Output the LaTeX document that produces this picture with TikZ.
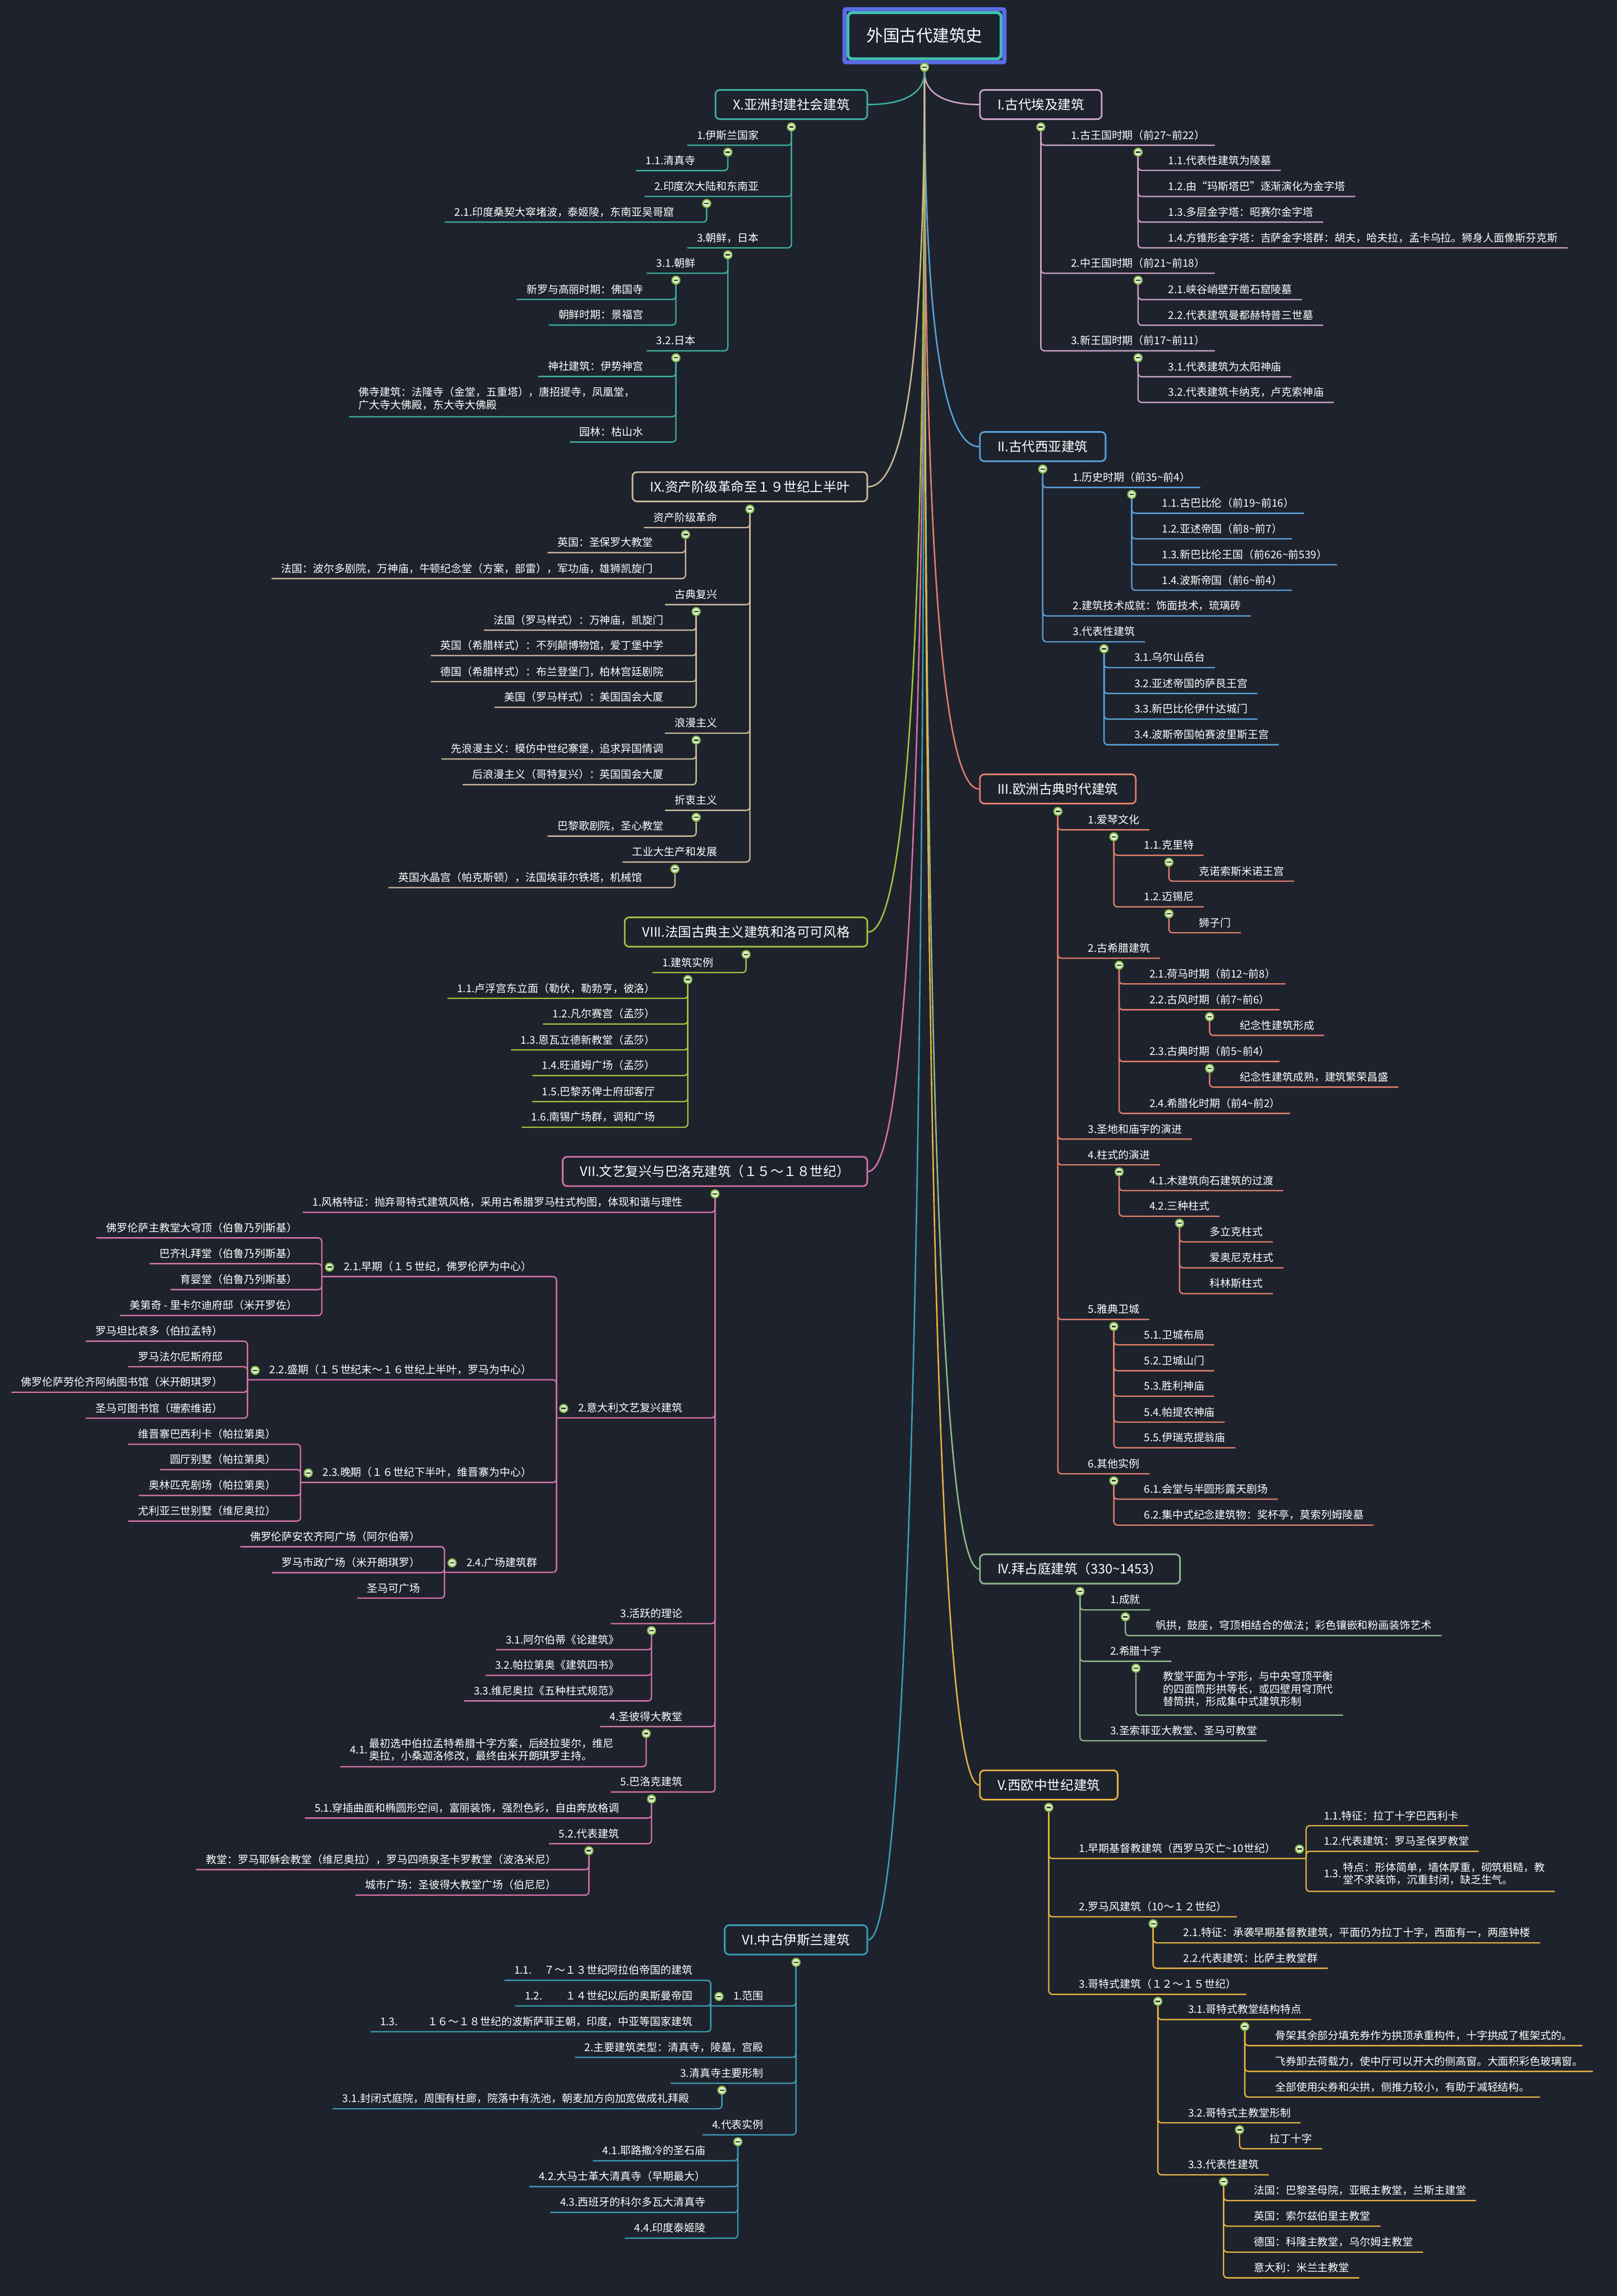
\documentclass[tikz,border=0pt]{standalone}
\usepackage{fontspec}
\usepackage{tikz}
\usetikzlibrary{positioning, fit, calc, backgrounds}
\newfontfamily\cjk{Noto Sans CJK SC}
\definecolor{bg}{RGB}{30,34,45}
\definecolor{rootc}{RGB}{62,193,176}
\definecolor{selc}{RGB}{91,108,230}
\definecolor{cI}{RGB}{201,163,198}
\definecolor{cII}{RGB}{90,162,216}
\definecolor{cIII}{RGB}{224,128,108}
\definecolor{cIV}{RGB}{141,184,138}
\definecolor{cV}{RGB}{230,179,64}
\definecolor{cVI}{RGB}{58,157,180}
\definecolor{cVII}{RGB}{212,115,166}
\definecolor{cVIII}{RGB}{163,194,62}
\definecolor{cIX}{RGB}{203,185,154}
\definecolor{cX}{RGB}{61,174,158}
\definecolor{knobout}{RGB}{124,179,66}
\definecolor{knobin}{RGB}{220,237,200}
\definecolor{knobdash}{RGB}{51,64,42}
\newcommand{\tld}{\textasciitilde}
\newcommand{\leaffont}{\cjk\fontsize{7.25}{8.4}\selectfont}
\newcommand{\boxfont}{\cjk\fontsize{9}{11}\selectfont}
\newcommand{\rootfont}{\cjk\fontsize{11.3}{13}\selectfont}

\begin{document}
\begin{tikzpicture}[
  x=1pt, y=-1pt,
  rootbox/.style={rectangle, rounded corners=3pt, draw=rootc, line width=2pt, fill=bg,
                  text=white, font=\rootfont, minimum width=104.5pt, minimum height=31.6pt},
  selbox/.style={rectangle, rounded corners=1pt, draw=selc, line width=2.8pt, inner sep=1.3pt},
  branch/.style={rectangle, rounded corners=3pt, draw=#1, line width=1.1pt, fill=bg,
                 text=white, font=\boxfont, inner xsep=12pt, minimum height=20pt},
  knob/.style={circle, inner sep=0pt, minimum size=5.5pt, fill=knobin, draw=knobout, line width=0.8pt,
               path picture={\draw[knobdash, line width=0.9pt]
                 ([xshift=-1.5pt]path picture bounding box.center) -- ([xshift=1.5pt]path picture bounding box.center);}},
  leaf/.style={inner xsep=6.5pt, inner ysep=2.5pt, text height=6pt, text depth=1.5pt, text=white, font=\leaffont},
  mleaf/.style={inner xsep=6.5pt, text=white, font=\leaffont},
  lr/.style={leaf, anchor=south west, xshift=14pt},
  ll/.style={leaf, anchor=south east, xshift=-15.5pt},
  lb/.style={leaf, anchor=south east, xshift=-10pt},
  ln/.style={draw=#1, line width=0.9pt, rounded corners=2.5pt},
  trunk/.style={draw=#1, line width=1pt}
]
\begin{scope}[on background layer]
  \fill[bg] (0,0) rectangle (1104,1568);
\end{scope}
\useasboundingbox (0,0) rectangle (1104,1568);

% --- root ---
\node[rootbox] (root) at (631.2,24.4) {外国古代建筑史};
\node[selbox, fit=(root)] (rootsel) {};
\node[knob, below=1.6pt of root] (rk) {};

% --- main branches ---
\node[branch=cI, anchor=west] (bI) at (668.5,71.4) {I.古代埃及建筑};
\node[branch=cII, anchor=west] (bII) at (668.5,305) {II.古代西亚建筑};
\node[branch=cIII, anchor=west] (bIII) at (668.5,538.8) {III.欧洲古典时代建筑};
\node[branch=cIV, anchor=west] (bIV) at (668.5,1071.5) {IV.拜占庭建筑（330\tld 1453）};
\node[branch=cV, anchor=west] (bV) at (668.5,1219) {V.西欧中世纪建筑};
\node[branch=cVI, anchor=east] (bVI) at (592.7,1324.8) {VI.中古伊斯兰建筑};
\node[branch=cVII, anchor=east] (bVII) at (592.7,800) {VII.文艺复兴与巴洛克建筑（１５～１８世纪）};
\node[branch=cVIII, anchor=east] (bVIII) at (592.7,636.5) {VIII.法国古典主义建筑和洛可可风格};
\node[branch=cIX, anchor=east] (bIX) at (592.7,332.4) {IX.资产阶级革命至１９世纪上半叶};
\node[branch=cX, anchor=east] (bX) at (592.7,71.4) {X.亚洲封建社会建筑};

\begin{scope}[on background layer]
  \draw[trunk=cI] (rk) .. controls ($(rk)!0.667!(rk|-bI.west)$) and ($(bI.west)!0.667!(rk|-bI.west)$) .. (bI.west);
  \draw[trunk=cII] (rk) .. controls ($(rk)!0.667!(rk|-bII.west)$) and ($(bII.west)!0.667!(rk|-bII.west)$) .. (bII.west);
  \draw[trunk=cIII] (rk) .. controls ($(rk)!0.667!(rk|-bIII.west)$) and ($(bIII.west)!0.667!(rk|-bIII.west)$) .. (bIII.west);
  \draw[trunk=cIV] (rk) .. controls ($(rk)!0.667!(rk|-bIV.west)$) and ($(bIV.west)!0.667!(rk|-bIV.west)$) .. (bIV.west);
  \draw[trunk=cV] (rk) .. controls ($(rk)!0.667!(rk|-bV.west)$) and ($(bV.west)!0.667!(rk|-bV.west)$) .. (bV.west);
  \draw[trunk=cVI] (rk) .. controls ($(rk)!0.667!(rk|-bVI.east)$) and ($(bVI.east)!0.667!(rk|-bVI.east)$) .. (bVI.east);
  \draw[trunk=cVII] (rk) .. controls ($(rk)!0.667!(rk|-bVII.east)$) and ($(bVII.east)!0.667!(rk|-bVII.east)$) .. (bVII.east);
  \draw[trunk=cVIII] (rk) .. controls ($(rk)!0.667!(rk|-bVIII.east)$) and ($(bVIII.east)!0.667!(rk|-bVIII.east)$) .. (bVIII.east);
  \draw[trunk=cIX] (rk) .. controls ($(rk)!0.667!(rk|-bIX.east)$) and ($(bIX.east)!0.667!(rk|-bIX.east)$) .. (bIX.east);
  \draw[trunk=cX] (rk) .. controls ($(rk)!0.667!(rk|-bX.east)$) and ($(bX.east)!0.667!(rk|-bX.east)$) .. (bX.east);
\end{scope}

% --- I. Egypt ---
\node[knob, below=1.6pt of bI] (kI) {};
\node[lr] (a1) at (kI |- 0,99.2) {1.古王国时期（前27\tld 前22）};
\node[knob, below=1.6pt of a1] (ka1) {};
\node[lr] (a11) at (ka1 |- 0,116.4) {1.1.代表性建筑为陵墓};
\node[lr] (a12) at (ka1 |- 0,134.2) {1.2.由“玛斯塔巴”逐渐演化为金字塔};
\node[lr] (a13) at (ka1 |- 0,151.7) {1.3.多层金字塔：昭赛尔金字塔};
\node[lr] (a14) at (ka1 |- 0,169.3) {1.4.方锥形金字塔：吉萨金字塔群：胡夫，哈夫拉，孟卡乌拉。狮身人面像斯芬克斯};
\node[lr] (a2) at (kI |- 0,186.6) {2.中王国时期（前21\tld 前18）};
\node[knob, below=1.6pt of a2] (ka2) {};
\node[lr] (a21) at (ka2 |- 0,204.6) {2.1.峡谷峭壁开凿石窟陵墓};
\node[lr] (a22) at (ka2 |- 0,222.1) {2.2.代表建筑曼都赫特普三世墓};
\node[lr] (a3) at (kI |- 0,239.6) {3.新王国时期（前17\tld 前11）};
\node[knob, below=1.6pt of a3] (ka3) {};
\node[lr] (a31) at (ka3 |- 0,257.3) {3.1.代表建筑为太阳神庙};
\node[lr] (a32) at (ka3 |- 0,274.8) {3.2.代表建筑卡纳克，卢克索神庙};
\begin{scope}[on background layer]
  \draw[ln=cI] (kI) |- (a1.south east);
  \draw[ln=cI] (kI) |- (a2.south east);
  \draw[ln=cI] (kI) |- (a3.south east);
  \draw[ln=cI] (ka1) |- (a11.south east);
  \draw[ln=cI] (ka1) |- (a12.south east);
  \draw[ln=cI] (ka1) |- (a13.south east);
  \draw[ln=cI] (ka1) |- (a14.south east);
  \draw[ln=cI] (ka2) |- (a21.south east);
  \draw[ln=cI] (ka2) |- (a22.south east);
  \draw[ln=cI] (ka3) |- (a31.south east);
  \draw[ln=cI] (ka3) |- (a32.south east);
\end{scope}

% --- II. West Asia ---
\node[knob, below=1.6pt of bII] (kII) {};
\node[lr] (b1) at (kII |- 0,332.9) {1.历史时期（前35\tld 前4）};
\node[knob, below=1.6pt of b1] (kb1) {};
\node[lr] (b11) at (kb1 |- 0,350.5) {1.1.古巴比伦（前19\tld 前16）};
\node[lr] (b12) at (kb1 |- 0,368.0) {1.2.亚述帝国（前8\tld 前7）};
\node[lr] (b13) at (kb1 |- 0,385.7) {1.3.新巴比伦王国（前626\tld 前539）};
\node[lr] (b14) at (kb1 |- 0,403.1) {1.4.波斯帝国（前6\tld 前4）};
\node[lr] (b2) at (kII |- 0,420.6) {2.建筑技术成就：饰面技术，琉璃砖};
\node[lr] (b3) at (kII |- 0,438.3) {3.代表性建筑};
\node[knob, below=1.6pt of b3] (kb3) {};
\node[lr] (b31) at (kb3 |- 0,455.9) {3.1.乌尔山岳台};
\node[lr] (b32) at (kb3 |- 0,473.6) {3.2.亚述帝国的萨艮王宫};
\node[lr] (b33) at (kb3 |- 0,491.1) {3.3.新巴比伦伊什达城门};
\node[lr] (b34) at (kb3 |- 0,508.6) {3.4.波斯帝国帕赛波里斯王宫};
\begin{scope}[on background layer]
  \draw[ln=cII] (kII) |- (b1.south east);
  \draw[ln=cII] (kII) |- (b2.south east);
  \draw[ln=cII] (kII) |- (b3.south east);
  \draw[ln=cII] (kb1) |- (b11.south east);
  \draw[ln=cII] (kb1) |- (b12.south east);
  \draw[ln=cII] (kb1) |- (b13.south east);
  \draw[ln=cII] (kb1) |- (b14.south east);
  \draw[ln=cII] (kb3) |- (b31.south east);
  \draw[ln=cII] (kb3) |- (b32.south east);
  \draw[ln=cII] (kb3) |- (b33.south east);
  \draw[ln=cII] (kb3) |- (b34.south east);
\end{scope}

% --- III. classical Europe ---
\node[knob, below=1.6pt of bIII] (kIII) {};
\node[lr] (c1) at (kIII |- 0,566.7) {1.爱琴文化};
\node[knob, below=1.6pt of c1] (kc1) {};
\node[lr] (c11) at (kc1 |- 0,584.1) {1.1.克里特};
\node[knob, below=1.6pt of c11] (kc11) {};
\node[lr] (c111) at (kc11 |- 0,601.8) {克诺索斯米诺王宫};
\node[lr] (c12) at (kc1 |- 0,619.3) {1.2.迈锡尼};
\node[knob, below=1.6pt of c12] (kc12) {};
\node[lr] (c121) at (kc12 |- 0,637) {狮子门};
\node[lr] (c2) at (kIII |- 0,654.4) {2.古希腊建筑};
\node[knob, below=1.6pt of c2] (kc2) {};
\node[lr] (c21) at (kc2 |- 0,671.9) {2.1.荷马时期（前12\tld 前8）};
\node[lr] (c22) at (kc2 |- 0,689.6) {2.2.古风时期（前7\tld 前6）};
\node[knob, below=1.6pt of c22] (kc22) {};
\node[lr] (c221) at (kc22 |- 0,707.1) {纪念性建筑形成};
\node[lr] (c23) at (kc2 |- 0,724.9) {2.3.古典时期（前5\tld 前4）};
\node[knob, below=1.6pt of c23] (kc23) {};
\node[lr] (c231) at (kc23 |- 0,742.4) {纪念性建筑成熟，建筑繁荣昌盛};
\node[lr] (c24) at (kc2 |- 0,760.4) {2.4.希腊化时期（前4\tld 前2）};
\node[lr] (c3) at (kIII |- 0,777.9) {3.圣地和庙宇的演进};
\node[lr] (c4) at (kIII |- 0,795.5) {4.柱式的演进};
\node[knob, below=1.6pt of c4] (kc4) {};
\node[lr] (c41) at (kc4 |- 0,813.1) {4.1.木建筑向石建筑的过渡};
\node[lr] (c42) at (kc4 |- 0,830.6) {4.2.三种柱式};
\node[knob, below=1.6pt of c42] (kc42) {};
\node[lr] (c421) at (kc42 |- 0,848.1) {多立克柱式};
\node[lr] (c422) at (kc42 |- 0,865.8) {爱奥尼克柱式};
\node[lr] (c423) at (kc42 |- 0,883.4) {科林斯柱式};
\node[lr] (c5) at (kIII |- 0,901.1) {5.雅典卫城};
\node[knob, below=1.6pt of c5] (kc5) {};
\node[lr] (c51) at (kc5 |- 0,918.4) {5.1.卫城布局};
\node[lr] (c52) at (kc5 |- 0,936.1) {5.2.卫城山门};
\node[lr] (c53) at (kc5 |- 0,953.5) {5.3.胜利神庙};
\node[lr] (c54) at (kc5 |- 0,971.2) {5.4.帕提农神庙};
\node[lr] (c55) at (kc5 |- 0,988.7) {5.5.伊瑞克提翁庙};
\node[lr] (c6) at (kIII |- 0,1006.5) {6.其他实例};
\node[knob, below=1.6pt of c6] (kc6) {};
\node[lr] (c61) at (kc6 |- 0,1023.8) {6.1.会堂与半圆形露天剧场};
\node[lr] (c62) at (kc6 |- 0,1041.5) {6.2.集中式纪念建筑物：奖杯亭，莫索列姆陵墓};
\begin{scope}[on background layer]
  \draw[ln=cIII] (kIII) |- (c1.south east);
  \draw[ln=cIII] (kIII) |- (c2.south east);
  \draw[ln=cIII] (kIII) |- (c3.south east);
  \draw[ln=cIII] (kIII) |- (c4.south east);
  \draw[ln=cIII] (kIII) |- (c5.south east);
  \draw[ln=cIII] (kIII) |- (c6.south east);
  \draw[ln=cIII] (kc1) |- (c11.south east);
  \draw[ln=cIII] (kc1) |- (c12.south east);
  \draw[ln=cIII] (kc11) |- (c111.south east);
  \draw[ln=cIII] (kc12) |- (c121.south east);
  \draw[ln=cIII] (kc2) |- (c21.south east);
  \draw[ln=cIII] (kc2) |- (c22.south east);
  \draw[ln=cIII] (kc2) |- (c23.south east);
  \draw[ln=cIII] (kc2) |- (c24.south east);
  \draw[ln=cIII] (kc22) |- (c221.south east);
  \draw[ln=cIII] (kc23) |- (c231.south east);
  \draw[ln=cIII] (kc4) |- (c41.south east);
  \draw[ln=cIII] (kc4) |- (c42.south east);
  \draw[ln=cIII] (kc42) |- (c421.south east);
  \draw[ln=cIII] (kc42) |- (c422.south east);
  \draw[ln=cIII] (kc42) |- (c423.south east);
  \draw[ln=cIII] (kc5) |- (c51.south east);
  \draw[ln=cIII] (kc5) |- (c52.south east);
  \draw[ln=cIII] (kc5) |- (c53.south east);
  \draw[ln=cIII] (kc5) |- (c54.south east);
  \draw[ln=cIII] (kc5) |- (c55.south east);
  \draw[ln=cIII] (kc6) |- (c61.south east);
  \draw[ln=cIII] (kc6) |- (c62.south east);
\end{scope}

% --- IV. Byzantine ---
\node[knob, below=1.6pt of bIV] (kIV) {};
\node[lr] (d1) at (kIV |- 0,1099.4) {1.成就};
\node[knob, below=1.6pt of d1] (kd1) {};
\node[lr] (d11) at (kd1 |- 0,1117) {帆拱，鼓座，穹顶相结合的做法；彩色镶嵌和粉画装饰艺术};
\node[lr] (d2) at (kIV |- 0,1134.5) {2.希腊十字};
\node[knob, below=1.6pt of d2] (kd2) {};
\node[mleaf, anchor=south west, xshift=12pt, inner ysep=3.7pt] (d21) at (kd2 |- 0,1171.3)
  {\begin{tabular}{@{}l@{}}教堂平面为十字形，与中央穹顶平衡\\的四面筒形拱等长，或四壁用穹顶代\\替筒拱，形成集中式建筑形制\end{tabular}};
\node[lr] (d3) at (kIV |- 0,1188.8) {3.圣索菲亚大教堂、圣马可教堂};
\begin{scope}[on background layer]
  \draw[ln=cIV] (kIV) |- (d1.south east);
  \draw[ln=cIV] (kIV) |- (d2.south east);
  \draw[ln=cIV] (kIV) |- (d3.south east);
  \draw[ln=cIV] (kd1) |- (d11.south east);
  \draw[ln=cIV] (kd2) |- (d21.south east);
\end{scope}

% --- V. medieval West Europe ---
\node[knob, below=1.6pt of bV] (kV) {};
\node[lr] (e1) at (kV |- 0,1269.2) {1.早期基督教建筑（西罗马灭亡\tld 10世纪）};
\node[knob, right=6.5pt of e1] (ke1) {};
\coordinate (te1) at ([xshift=14.2pt]e1.south east);
\node[leaf, anchor=south west, xshift=5.4pt] (e11) at (te1 |- 0,1246.8) {1.1.特征：拉丁十字巴西利卡};
\node[leaf, anchor=south west, xshift=5.4pt] (e12) at (te1 |- 0,1264.3) {1.2.代表建筑：罗马圣保罗教堂};
\node[mleaf, anchor=south west, xshift=5.4pt, inner ysep=2.4pt] (e13) at (te1 |- 0,1291.7)
  {\begin{tabular}{@{}l@{\hspace{1.2pt}}l@{}}1.3.&\begin{tabular}{@{}l@{}}特点：形体简单，墙体厚重，砌筑粗糙，教\\堂不求装饰，沉重封闭，缺乏生气。\end{tabular}\end{tabular}};
\node[lr] (e2) at (kV |- 0,1309) {2.罗马风建筑（10～１２世纪）};
\node[knob, below=1.6pt of e2] (ke2) {};
\node[lr] (e21) at (ke2 |- 0,1326.8) {2.1.特征：承袭早期基督教建筑，平面仍为拉丁十字，西面有一，两座钟楼};
\node[lr] (e22) at (ke2 |- 0,1344.2) {2.2.代表建筑：比萨主教堂群};
\node[lr] (e3) at (kV |- 0,1362) {3.哥特式建筑（１２～１５世纪）};
\node[knob, below=1.6pt of e3] (ke3) {};
\node[lr] (e31) at (ke3 |- 0,1379.2) {3.1.哥特式教堂结构特点};
\node[knob, below=1.6pt of e31] (ke31) {};
\node[lr] (e311) at (ke31 |- 0,1397) {骨架其余部分填充券作为拱顶承重构件，十字拱成了框架式的。};
\node[lr] (e312) at (ke31 |- 0,1414.6) {飞券卸去荷载力，使中厅可以开大的侧高窗。大面积彩色玻璃窗。};
\node[lr] (e313) at (ke31 |- 0,1432.2) {全部使用尖券和尖拱，侧推力较小，有助于减轻结构。};
\node[lr] (e32) at (ke3 |- 0,1449.7) {3.2.哥特式主教堂形制};
\node[knob, below=1.6pt of e32] (ke32) {};
\node[lr] (e321) at (ke32 |- 0,1467.4) {拉丁十字};
\node[lr] (e33) at (ke3 |- 0,1485.2) {3.3.代表性建筑};
\node[knob, below=1.6pt of e33] (ke33) {};
\node[lr] (e331) at (ke33 |- 0,1502.8) {法国：巴黎圣母院，亚眠主教堂，兰斯主建堂};
\node[lr] (e332) at (ke33 |- 0,1520.3) {英国：索尔兹伯里主教堂};
\node[lr] (e333) at (ke33 |- 0,1538) {德国：科隆主教堂，乌尔姆主教堂};
\node[lr] (e334) at (ke33 |- 0,1555.6) {意大利：米兰主教堂};
\begin{scope}[on background layer]
  \draw[ln=cV] (kV) |- (te1);
  \draw[ln=cV] (kV) |- (e2.south east);
  \draw[ln=cV] (kV) |- (e3.south east);
  \draw[ln=cV] (te1) |- (e11.south east);
  \draw[ln=cV] (te1) |- (e12.south east);
  \draw[ln=cV] (te1) |- (e13.south east);
  \draw[ln=cV] (ke2) |- (e21.south east);
  \draw[ln=cV] (ke2) |- (e22.south east);
  \draw[ln=cV] (ke3) |- (e31.south east);
  \draw[ln=cV] (ke3) |- (e32.south east);
  \draw[ln=cV] (ke3) |- (e33.south east);
  \draw[ln=cV] (ke31) |- (e311.south east);
  \draw[ln=cV] (ke31) |- (e312.south east);
  \draw[ln=cV] (ke31) |- (e313.south east);
  \draw[ln=cV] (ke32) |- (e321.south east);
  \draw[ln=cV] (ke33) |- (e331.south east);
  \draw[ln=cV] (ke33) |- (e332.south east);
  \draw[ln=cV] (ke33) |- (e333.south east);
  \draw[ln=cV] (ke33) |- (e334.south east);
\end{scope}

% --- X. Asia ---
\node[knob, below=1.6pt of bX] (kX) {};
\node[ll] (x1) at (kX |- 0,99.2) {1.伊斯兰国家};
\node[knob, below=1.6pt of x1] (kx1) {};
\node[ll] (x11) at (kx1 |- 0,116.5) {1.1.清真寺};
\node[ll] (x2) at (kX |- 0,134.2) {2.印度次大陆和东南亚};
\node[knob, below=1.6pt of x2] (kx2) {};
\node[ll] (x21) at (kx2 |- 0,151.7) {2.1.印度桑契大窣堵波，泰姬陵，东南亚吴哥窟};
\node[ll] (x3) at (kX |- 0,169.3) {3.朝鲜，日本};
\node[knob, below=1.6pt of x3] (kx3) {};
\node[ll] (x31) at (kx3 |- 0,186.6) {3.1.朝鲜};
\node[knob, below=1.6pt of x31] (kx31) {};
\node[ll] (x311) at (kx31 |- 0,204.5) {新罗与高丽时期：佛国寺};
\node[ll] (x312) at (kx31 |- 0,222) {朝鲜时期：景福宫};
\node[ll] (x32) at (kx3 |- 0,239.6) {3.2.日本};
\node[knob, below=1.6pt of x32] (kx32) {};
\node[ll] (x321) at (kx32 |- 0,257.1) {神社建筑：伊势神宫};
\node[mleaf, anchor=south east, xshift=-21.3pt, inner ysep=2.7pt] (x322) at (kx32 |- 0,284.6)
  {\begin{tabular}{@{}l@{}}佛寺建筑：法隆寺（金堂，五重塔），唐招提寺，凤凰堂，\\广大寺大佛殿，东大寺大佛殿\end{tabular}};
\node[ll] (x323) at (kx32 |- 0,301.9) {园林：枯山水};
\begin{scope}[on background layer]
  \draw[ln=cX] (kX) |- (x1.south west);
  \draw[ln=cX] (kX) |- (x2.south west);
  \draw[ln=cX] (kX) |- (x3.south west);
  \draw[ln=cX] (kx1) |- (x11.south west);
  \draw[ln=cX] (kx2) |- (x21.south west);
  \draw[ln=cX] (kx3) |- (x31.south west);
  \draw[ln=cX] (kx3) |- (x32.south west);
  \draw[ln=cX] (kx31) |- (x311.south west);
  \draw[ln=cX] (kx31) |- (x312.south west);
  \draw[ln=cX] (kx32) |- (x321.south west);
  \draw[ln=cX] (kx32) |- (x322.south west);
  \draw[ln=cX] (kx32) |- (x323.south west);
\end{scope}

% --- IX. bourgeois revolution ---
\node[knob, below=1.6pt of bIX] (kIX) {};
\node[ll] (y1) at (kIX |- 0,360.3) {资产阶级革命};
\node[knob, below=1.6pt of y1] (ky1) {};
\node[ll] (y11) at (ky1 |- 0,377.4) {英国：圣保罗大教堂};
\node[ll] (y12) at (ky1 |- 0,395.1) {法国：波尔多剧院，万神庙，牛顿纪念堂（方案，部雷），军功庙，雄狮凯旋门};
\node[ll] (y2) at (kIX |- 0,412.9) {古典复兴};
\node[knob, below=1.6pt of y2] (ky2) {};
\node[ll] (y21) at (ky2 |- 0,430.4) {法国（罗马样式）：万神庙，凯旋门};
\node[ll] (y22) at (ky2 |- 0,447.7) {英国（希腊样式）：不列颠博物馆，爱丁堡中学};
\node[ll] (y23) at (ky2 |- 0,465.5) {德国（希腊样式）：布兰登堡门，柏林宫廷剧院};
\node[ll] (y24) at (ky2 |- 0,483) {美国（罗马样式）：美国国会大厦};
\node[ll] (y3) at (kIX |- 0,500.7) {浪漫主义};
\node[knob, below=1.6pt of y3] (ky3) {};
\node[ll] (y31) at (ky3 |- 0,518.3) {先浪漫主义：模仿中世纪寨堡，追求异国情调};
\node[ll] (y32) at (ky3 |- 0,535.9) {后浪漫主义（哥特复兴）：英国国会大厦};
\node[ll] (y4) at (kIX |- 0,553.4) {折衷主义};
\node[knob, below=1.6pt of y4] (ky4) {};
\node[ll] (y41) at (ky4 |- 0,571) {巴黎歌剧院，圣心教堂};
\node[ll] (y5) at (kIX |- 0,588.7) {工业大生产和发展};
\node[knob, below=1.6pt of y5] (ky5) {};
\node[ll] (y51) at (ky5 |- 0,606.2) {英国水晶宫（帕克斯顿），法国埃菲尔铁塔，机械馆};
\begin{scope}[on background layer]
  \draw[ln=cIX] (kIX) |- (y1.south west);
  \draw[ln=cIX] (kIX) |- (y2.south west);
  \draw[ln=cIX] (kIX) |- (y3.south west);
  \draw[ln=cIX] (kIX) |- (y4.south west);
  \draw[ln=cIX] (kIX) |- (y5.south west);
  \draw[ln=cIX] (ky1) |- (y11.south west);
  \draw[ln=cIX] (ky1) |- (y12.south west);
  \draw[ln=cIX] (ky2) |- (y21.south west);
  \draw[ln=cIX] (ky2) |- (y22.south west);
  \draw[ln=cIX] (ky2) |- (y23.south west);
  \draw[ln=cIX] (ky2) |- (y24.south west);
  \draw[ln=cIX] (ky3) |- (y31.south west);
  \draw[ln=cIX] (ky3) |- (y32.south west);
  \draw[ln=cIX] (ky4) |- (y41.south west);
  \draw[ln=cIX] (ky5) |- (y51.south west);
\end{scope}

% --- VIII. French classicism ---
\node[knob, below=1.6pt of bVIII] (kVIII) {};
\node[ll] (v1) at (kVIII |- 0,664.2) {1.建筑实例};
\node[knob, below=1.6pt of v1] (kv1) {};
\node[ll] (v11) at (kv1 |- 0,681.8) {1.1.卢浮宫东立面（勒伏，勒勃亨，彼洛）};
\node[ll] (v12) at (kv1 |- 0,699.3) {1.2.凡尔赛宫（孟莎）};
\node[ll] (v13) at (kv1 |- 0,717) {1.3.恩瓦立德新教堂（孟莎）};
\node[ll] (v14) at (kv1 |- 0,734.5) {1.4.旺道姆广场（孟莎）};
\node[ll] (v15) at (kv1 |- 0,752.3) {1.5.巴黎苏俾士府邸客厅};
\node[ll] (v16) at (kv1 |- 0,769.8) {1.6.南锡广场群，调和广场};
\begin{scope}[on background layer]
  \draw[ln=cVIII] (kVIII) |- (v1.south west);
  \draw[ln=cVIII] (kv1) |- (v11.south west);
  \draw[ln=cVIII] (kv1) |- (v12.south west);
  \draw[ln=cVIII] (kv1) |- (v13.south west);
  \draw[ln=cVIII] (kv1) |- (v14.south west);
  \draw[ln=cVIII] (kv1) |- (v15.south west);
  \draw[ln=cVIII] (kv1) |- (v16.south west);
\end{scope}

% --- VII. Renaissance and Baroque ---
\node[knob, below=1.6pt of bVII] (kVII) {};
\node[ll] (g1) at (kVII |- 0,827.9) {1.风格特征：抛弃哥特式建筑风格，采用古希腊罗马柱式构图，体现和谐与理性};
\node[ll] (g2) at (kVII |- 0,968.3) {2.意大利文艺复兴建筑};
\node[knob, left=0pt of g2] (kg2) {};
\coordinate (tg2) at ([xshift=-8pt]g2.south west);
\node[leaf, anchor=south east, xshift=-10.4pt] (g21) at (tg2 |- 0,871.8) {2.1.早期（１５世纪，佛罗伦萨为中心）};
\node[knob, left=0pt of g21] (kg21) {};
\coordinate (tg21) at ([xshift=-8.4pt]g21.south west);
\node[lb] (g211) at (tg21 |- 0,845.4) {佛罗伦萨主教堂大穹顶（伯鲁乃列斯基）};
\node[lb] (g212) at (tg21 |- 0,863) {巴齐礼拜堂（伯鲁乃列斯基）};
\node[lb] (g213) at (tg21 |- 0,880.7) {育婴堂（伯鲁乃列斯基）};
\node[lb] (g214) at (tg21 |- 0,898.4) {美第奇 - 里卡尔迪府邸（米开罗佐）};
\node[leaf, anchor=south east, xshift=-10.4pt] (g22) at (tg2 |- 0,942.3) {2.2.盛期（１５世纪末～１６世纪上半叶，罗马为中心）};
\node[knob, left=0pt of g22] (kg22) {};
\coordinate (tg22) at ([xshift=-8.4pt]g22.south west);
\node[lb] (g221) at (tg22 |- 0,915.9) {罗马坦比哀多（伯拉孟特）};
\node[lb] (g222) at (tg22 |- 0,933.4) {罗马法尔尼斯府邸};
\node[lb] (g223) at (tg22 |- 0,950.8) {佛罗伦萨劳伦齐阿纳图书馆（米开朗琪罗）};
\node[lb] (g224) at (tg22 |- 0,968.5) {圣马可图书馆（珊索维诺）};
\node[leaf, anchor=south east, xshift=-10.4pt] (g23) at (tg2 |- 0,1012.4) {2.3.晚期（１６世纪下半叶，维晋寨为中心）};
\node[knob, left=0pt of g23] (kg23) {};
\coordinate (tg23) at ([xshift=-8.4pt]g23.south west);
\node[lb] (g231) at (tg23 |- 0,986.3) {维晋寨巴西利卡（帕拉第奥）};
\node[lb] (g232) at (tg23 |- 0,1003.6) {圆厅别墅（帕拉第奥）};
\node[lb] (g233) at (tg23 |- 0,1021.3) {奥林匹克剧场（帕拉第奥）};
\node[lb] (g234) at (tg23 |- 0,1038.8) {尤利亚三世别墅（维尼奥拉）};
\node[leaf, anchor=south east, xshift=-6.4pt] (g24) at (tg2 |- 0,1073.8) {2.4.广场建筑群};
\node[knob, left=0pt of g24] (kg24) {};
\coordinate (tg24) at ([xshift=-8.4pt]g24.south west);
\node[lb] (g241) at (tg24 |- 0,1056.3) {佛罗伦萨安农齐阿广场（阿尔伯蒂）};
\node[lb] (g242) at (tg24 |- 0,1074) {罗马市政广场（米开朗琪罗）};
\node[lb] (g243) at (tg24 |- 0,1091.4) {圣马可广场};
\node[ll] (g3) at (kVII |- 0,1108.8) {3.活跃的理论};
\node[knob, below=1.6pt of g3] (kg3) {};
\node[ll] (g31) at (kg3 |- 0,1126.6) {3.1.阿尔伯蒂《论建筑》};
\node[ll] (g32) at (kg3 |- 0,1144.1) {3.2.帕拉第奥《建筑四书》};
\node[ll] (g33) at (kg3 |- 0,1161.6) {3.3.维尼奥拉《五种柱式规范》};
\node[ll] (g4) at (kVII |- 0,1179.1) {4.圣彼得大教堂};
\node[knob, below=1.6pt of g4] (kg4) {};
\node[mleaf, anchor=south east, xshift=-15.5pt, inner ysep=1.9pt] (g41) at (kg4 |- 0,1206.5)
  {\begin{tabular}{@{}l@{\hspace{1.2pt}}l@{}}4.1.&\begin{tabular}{@{}l@{}}最初选中伯拉孟特希腊十字方案，后经拉斐尔，维尼\\奥拉，小桑迦洛修改，最终由米开朗琪罗主持。\end{tabular}\end{tabular}};
\node[ll] (g5) at (kVII |- 0,1223.8) {5.巴洛克建筑};
\node[knob, below=1.6pt of g5] (kg5) {};
\node[ll] (g51) at (kg5 |- 0,1241.6) {5.1.穿插曲面和椭圆形空间，富丽装饰，强烈色彩，自由奔放格调};
\node[ll] (g52) at (kg5 |- 0,1259.1) {5.2.代表建筑};
\node[knob, below=1.6pt of g52] (kg52) {};
\node[ll] (g521) at (kg52 |- 0,1276.8) {教堂：罗马耶稣会教堂（维尼奥拉），罗马四喷泉圣卡罗教堂（波洛米尼）};
\node[ll] (g522) at (kg52 |- 0,1294.2) {城市广场：圣彼得大教堂广场（伯尼尼）};
\begin{scope}[on background layer]
  \draw[ln=cVII] (kVII) |- (g1.south west);
  \draw[ln=cVII] (kVII) |- (tg2);
  \draw[ln=cVII] (kVII) |- (g3.south west);
  \draw[ln=cVII] (kVII) |- (g4.south west);
  \draw[ln=cVII] (kVII) |- (g5.south west);
  \draw[ln=cVII] (tg2) |- (tg21);
  \draw[ln=cVII] (tg2) |- (tg22);
  \draw[ln=cVII] (tg2) |- (tg23);
  \draw[ln=cVII] (tg2) |- (tg24);
  \draw[ln=cVII] (tg21) |- (g211.south west);
  \draw[ln=cVII] (tg21) |- (g212.south west);
  \draw[ln=cVII] (tg21) |- (g213.south west);
  \draw[ln=cVII] (tg21) |- (g214.south west);
  \draw[ln=cVII] (tg22) |- (g221.south west);
  \draw[ln=cVII] (tg22) |- (g222.south west);
  \draw[ln=cVII] (tg22) |- (g223.south west);
  \draw[ln=cVII] (tg22) |- (g224.south west);
  \draw[ln=cVII] (tg23) |- (g231.south west);
  \draw[ln=cVII] (tg23) |- (g232.south west);
  \draw[ln=cVII] (tg23) |- (g233.south west);
  \draw[ln=cVII] (tg23) |- (g234.south west);
  \draw[ln=cVII] (tg24) |- (g241.south west);
  \draw[ln=cVII] (tg24) |- (g242.south west);
  \draw[ln=cVII] (tg24) |- (g243.south west);
  \draw[ln=cVII] (kg3) |- (g31.south west);
  \draw[ln=cVII] (kg3) |- (g32.south west);
  \draw[ln=cVII] (kg3) |- (g33.south west);
  \draw[ln=cVII] (kg4) |- (g41.south west);
  \draw[ln=cVII] (kg5) |- (g51.south west);
  \draw[ln=cVII] (kg5) |- (g52.south west);
  \draw[ln=cVII] (kg52) |- (g521.south west);
  \draw[ln=cVII] (kg52) |- (g522.south west);
\end{scope}

% --- VI. medieval Islam ---
\node[knob, below=1.6pt of bVI] (kVI) {};
\node[ll] (h1) at (kVI |- 0,1369.9) {1.范围};
\node[knob, left=0pt of h1] (kh1) {};
\coordinate (th1) at ([xshift=-8.8pt]h1.south west);
\node[leaf, anchor=south east, xshift=-5.6pt] (h11) at (th1 |- 0,1352.4) {1.1.\hspace{8.3pt}７～１３世纪阿拉伯帝国的建筑};
\node[leaf, anchor=south east, xshift=-5.6pt] (h12) at (th1 |- 0,1369.9) {1.2.\hspace{15.5pt}１４世纪以后的奥斯曼帝国};
\node[leaf, anchor=south east, xshift=-5.6pt] (h13) at (th1 |- 0,1387.5) {1.3.\hspace{20pt}１６～１８世纪的波斯萨菲王朝，印度，中亚等国家建筑};
\node[ll] (h2) at (kVI |- 0,1405) {2.主要建筑类型：清真寺，陵墓，宫殿};
\node[ll] (h3) at (kVI |- 0,1422.7) {3.清真寺主要形制};
\node[knob, below=1.6pt of h3] (kh3) {};
\node[ll] (h31) at (kh3 |- 0,1440.1) {3.1.封闭式庭院，周围有柱廊，院落中有洗池，朝麦加方向加宽做成礼拜殿};
\node[ll] (h4) at (kVI |- 0,1457.9) {4.代表实例};
\node[knob, below=1.6pt of h4] (kh4) {};
\node[ll] (h41) at (kh4 |- 0,1475.6) {4.1.耶路撒冷的圣石庙};
\node[ll] (h42) at (kh4 |- 0,1493.3) {4.2.大马士革大清真寺（早期最大）};
\node[ll] (h43) at (kh4 |- 0,1510.9) {4.3.西班牙的科尔多瓦大清真寺};
\node[ll] (h44) at (kh4 |- 0,1528.5) {4.4.印度泰姬陵};
\begin{scope}[on background layer]
  \draw[ln=cVI] (kVI) |- (th1);
  \draw[ln=cVI] (kVI) |- (h2.south west);
  \draw[ln=cVI] (kVI) |- (h3.south west);
  \draw[ln=cVI] (kVI) |- (h4.south west);
  \draw[ln=cVI] (th1) |- (h11.south west);
  \draw[ln=cVI] (th1) |- (h12.south west);
  \draw[ln=cVI] (th1) |- (h13.south west);
  \draw[ln=cVI] (kh3) |- (h31.south west);
  \draw[ln=cVI] (kh4) |- (h41.south west);
  \draw[ln=cVI] (kh4) |- (h42.south west);
  \draw[ln=cVI] (kh4) |- (h43.south west);
  \draw[ln=cVI] (kh4) |- (h44.south west);
\end{scope}

\end{tikzpicture}
\end{document}
